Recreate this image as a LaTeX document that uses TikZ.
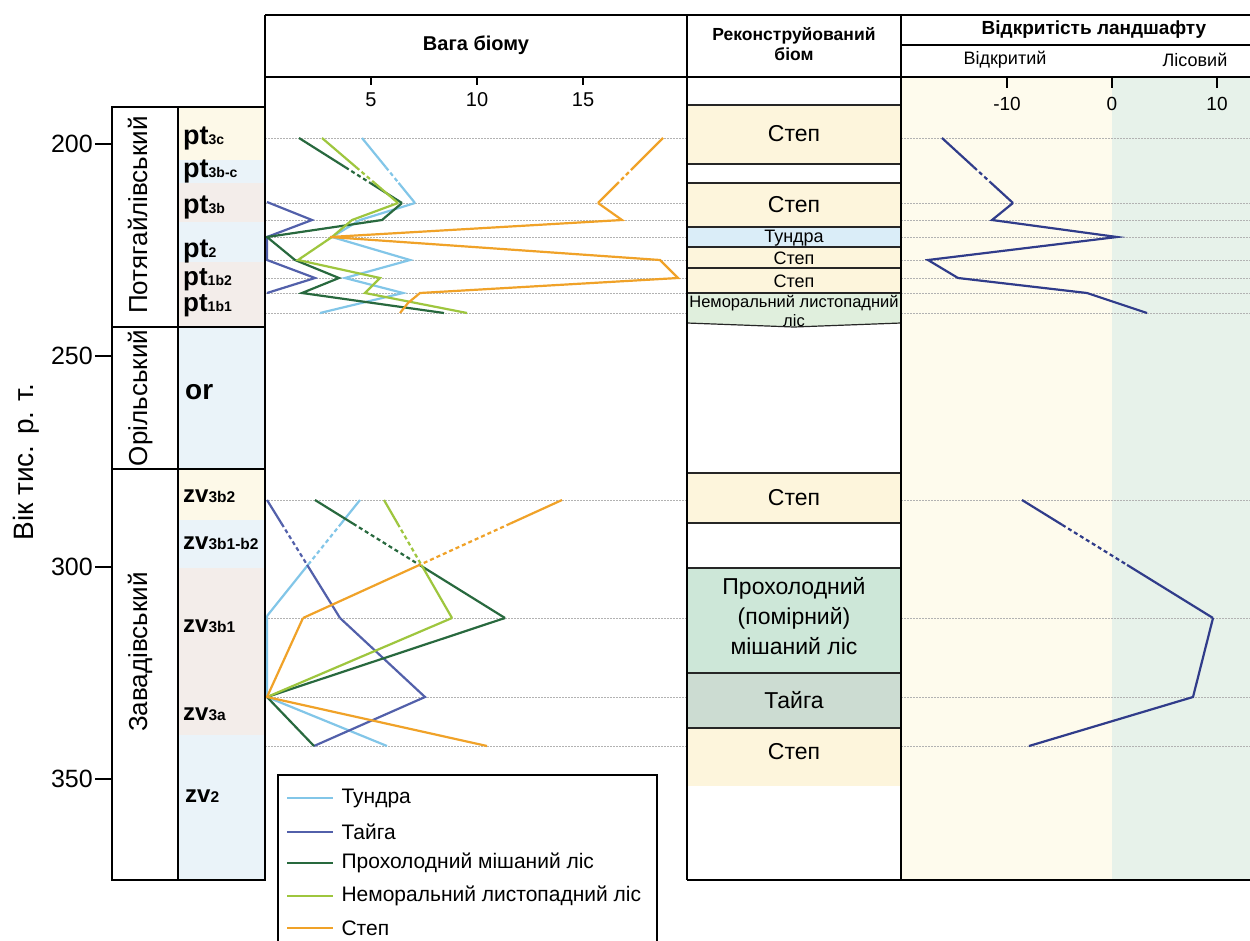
\documentclass[tikz,border=0pt]{standalone}
\usepackage{fontspec}
\setmainfont{Liberation Sans}
\usetikzlibrary{calc}

% series colours
\definecolor{cTund}{RGB}{130,198,232}
\definecolor{cTaig}{RGB}{82,96,170}
\definecolor{cMix}{RGB}{40,105,62}
\definecolor{cNem}{RGB}{158,198,62}
\definecolor{cStep}{RGB}{240,162,40}
\definecolor{cOpen}{RGB}{48,60,138}
% fills
\definecolor{fStep}{RGB}{253,245,220}
\definecolor{fTund}{RGB}{218,237,248}
\definecolor{fNem}{RGB}{224,239,221}
\definecolor{fMix}{RGB}{205,231,216}
\definecolor{fTaig}{RGB}{204,220,210}
\definecolor{subY}{RGB}{253,249,232}
\definecolor{subB}{RGB}{234,243,249}
\definecolor{subP}{RGB}{243,237,234}
\definecolor{openY}{RGB}{254,251,237}
\definecolor{openG}{RGB}{231,242,234}

\tikzset{
  frame/.style={draw=black,line width=1.6pt},
  sepline/.style={draw=black!85,line width=1.2pt},
  gridl/.style={draw=black!30,line width=0.7pt,dash pattern=on 1.5pt off 1.5pt},
  serie/.style={line width=2.2pt,line join=miter},
  tund/.style={serie,draw=cTund},
  taig/.style={serie,draw=cTaig},
  mixf/.style={serie,draw=cMix},
  nemf/.style={serie,draw=cNem},
  stepl/.style={serie,draw=cStep},
  openl/.style={serie,draw=cOpen},
  gapdash/.style={dash pattern=on 4pt off 3pt},
  hdr/.style={font=\fontsize{19}{22}\selectfont\bfseries,align=center},
  tick/.style={font=\fontsize{20}{22}\selectfont},
  big/.style={font=\fontsize{23}{27}\selectfont,align=center},
  small/.style={font=\fontsize{18}{20}\selectfont},
  stage/.style={font=\fontsize{26}{28}\selectfont,rotate=90,anchor=base},
  leg/.style={font=\fontsize{21}{24}\selectfont,anchor=west},
  subl/.style={anchor=base west,inner sep=0},
}

% segment whose middle part is dashed (interpolated interval)
\newcommand\gapseg[5]{%
  \draw[#1] (#2) -- ($(#2)!#4!(#3)$);
  \draw[#1,gapdash] ($(#2)!#4!(#3)$) -- ($(#2)!#5!(#3)$);
  \draw[#1] ($(#2)!#5!(#3)$) -- (#3);}

% substage label: main letters and smaller index
\newcommand\subst[4]{{\bfseries\fontsize{#3}{#3}\selectfont #1\fontsize{#4}{#4}\selectfont #2}}

\begin{document}
\begin{tikzpicture}[x=1pt,y=-1pt]
\useasboundingbox (0,0) rectangle (1250,940);
\fill[white] (0,0) rectangle (1250,940);

% ---------- backgrounds ----------
\fill[subY] (178,107) rectangle (265,160);
\fill[subB] (178,160) rectangle (265,183);
\fill[subP] (178,183) rectangle (265,222);
\fill[subB] (178,222) rectangle (265,262);
\fill[subP] (178,262) rectangle (265,327);
\fill[subB] (178,327) rectangle (265,469);
\fill[subY] (178,469) rectangle (265,520);
\fill[subB] (178,520) rectangle (265,568);
\fill[subP] (178,568) rectangle (265,735);
\fill[subB] (178,735) rectangle (265,880);

\fill[openY] (901,77) rectangle (1112,880);
\fill[openG] (1112,77) rectangle (1250,880);

% reconstructed biome bands
\fill[fStep] (687,105) rectangle (901,164);
\fill[fStep] (687,183) rectangle (901,227);
\fill[fTund] (687,227) rectangle (901,247);
\fill[fStep] (687,247) rectangle (901,293);
\fill[fNem] (687,293) -- (901,293) -- (901,323) -- (794,327) -- (687,323) -- cycle;
\fill[fStep] (687,473) rectangle (901,523);
\fill[fMix] (687,568) rectangle (901,673);
\fill[fTaig] (687,673) rectangle (901,728);
\fill[fStep] (687,728) rectangle (901,786);

% ---------- sample levels ----------
\foreach \yy in {138,203,220,237,260,278,293,313,500,618,697,746}{
  \draw[gridl] (265,\yy) -- (687,\yy);
  \draw[gridl] (901,\yy) -- (1250,\yy);
}

% ---------- biome weight series ----------
% tundra
\gapseg{tund}{362,138}{415,203}{0.45}{0.69}
\draw[tund] (415,203) -- (360,220) -- (332,237) -- (410,260) -- (345,278) -- (403,293) -- (320,313);
\gapseg{tund}{360,500}{267,616}{0.2}{0.55}
\draw[tund] (267,616) -- (267,697) -- (387,746);
% taiga
\draw[taig] (267,202) -- (312,220) -- (267,237) -- (267,260) -- (315,278) -- (267,293);
\gapseg{taig}{267,500}{340,618}{0.2}{0.55}
\draw[taig] (340,618) -- (425,697) -- (314,746);
% cool mixed forest
\gapseg{mixf}{299,138}{402,203}{0.45}{0.69}
\draw[mixf] (402,203) -- (382,220) -- (267,237) -- (295,260) -- (339,278) -- (302,293) -- (444,313);
\gapseg{mixf}{315,500}{505,618}{0.2}{0.55}
\draw[mixf] (505,618) -- (267,697) -- (314,746);
% nemoral deciduous forest
\gapseg{nemf}{322,138}{398,203}{0.45}{0.69}
\draw[nemf] (398,203) -- (352,220) -- (332,237) -- (298,260) -- (380,278) -- (365,293) -- (467,313);
\gapseg{nemf}{384,500}{452,618}{0.2}{0.55}
\draw[nemf] (452,618) -- (267,697);
% steppe
\gapseg{stepl}{663,138}{598,203}{0.45}{0.69}
\draw[stepl] (598,203) -- (622,220) -- (330,237) -- (660,260) -- (678,278) -- (420,293) -- (408,303) -- (400,313);
\gapseg{stepl}{562,500}{303,618}{0.2}{0.55}
\draw[stepl] (303,618) -- (267,697) -- (487,746);

% ---------- landscape openness ----------
\gapseg{openl}{942,138}{1013,203}{0.45}{0.68}
\draw[openl] (1013,203) -- (992,220) -- (1117,237) -- (928,260) -- (958,278) -- (1087,293) -- (1147,313);
\gapseg{openl}{1022,500}{1213,618}{0.21}{0.55}
\draw[openl] (1213,618) -- (1193,697) -- (1029,746);

% ---------- reconstructed biome boundaries ----------
\foreach \yy in {105,164,183,227,247,268,293,473,523,568,673,728}{
  \draw[sepline] (687,\yy) -- (901,\yy);
}
\draw[sepline] (687,323) -- (794,327) -- (901,323);

% ---------- frames ----------
\draw[frame] (265,15) -- (1250,15);
\draw[frame] (265,77) -- (1250,77);
\draw[frame] (901,45) -- (1250,45);
\draw[frame] (265,15) -- (265,880);
\draw[frame] (687,15) -- (687,880);
\draw[frame] (901,15) -- (901,880);
\draw[frame] (687,880) -- (1250,880);
\draw[frame] (112,107) rectangle (265,880);
\draw[frame] (178,107) -- (178,880);
\draw[frame] (112,327) -- (265,327);
\draw[frame] (112,469) -- (265,469);

% ---------- age axis ----------
\foreach \yy/\lab in {144/200,356/250,567/300,779/350}{
  \draw[line width=1.6pt] (95,\yy) -- (112,\yy);
  \node[font=\fontsize{25}{27}\selectfont,anchor=east,inner sep=1pt] (age\lab) at (94,\yy) {\lab};
}
\node[font=\fontsize{28}{30}\selectfont,rotate=90,anchor=base] (agetitle) at (33,462) {Вік тис. р. т.};

% ---------- stages ----------
\node[stage] (stP) at (147,215) {Потягайлівський};
\node[stage] (stO) at (147,398) {Орільський};
\node[stage] (stZ) at (147,652) {Завадівський};

% ---------- substages ----------
\node[subl] (s1) at (183,144) {\subst{pt}{3c}{27}{14}};
\node[subl] (s2) at (183,177) {\subst{pt}{3b-c}{27}{14}};
\node[subl] (s3) at (183,213) {\subst{pt}{3b}{27}{14}};
\node[subl] (s4) at (183,257) {\subst{pt}{2}{27}{14}};
\node[subl] (s5) at (183,285) {\subst{pt}{1b2}{26}{14}};
\node[subl] (s6) at (183,311) {\subst{pt}{1b1}{26}{14}};
\node[subl] (s7) at (185,399) {\subst{or}{}{28}{14}};
\node[subl] (s8) at (183,502) {\subst{zv}{3b2}{24}{15.5}};
\node[subl] (s9) at (183,549) {\subst{zv}{3b1-b2}{24}{15.5}};
\node[subl] (s10) at (183,632) {\subst{zv}{3b1}{24}{15.5}};
\node[subl] (s11) at (183,720) {\subst{zv}{3a}{24}{15.5}};
\node[subl] (s12) at (185,802) {\subst{zv}{2}{24}{15.5}};

% ---------- headers ----------
\node[hdr,font=\fontsize{20}{22}\selectfont\bfseries] (hW) at (476,45) {Вага біому};
\node[hdr,font=\fontsize{17.5}{20}\selectfont\bfseries] (hR) at (794,44) {Реконструйований\\біом};
\node[hdr] (hO) at (1094,30) {Відкритість ландшафту};
\node[font=\fontsize{18}{20}\selectfont] (hOa) at (1005,60) {Відкритий};
\node[font=\fontsize{18}{20}\selectfont] (hOb) at (1195,60) {Лісовий};

% weight axis
\foreach \xx/\lab in {371/5,477/10,583/15}{
  \draw[line width=1.3pt] (\xx,77) -- (\xx,85);
  \node[tick] (w\lab) at (\xx,100) {\lab};
}
% openness axis
\foreach \xx/\lab/\nm in {1007/-10/m,1112/0/z,1217/10/p}{
  \draw[line width=1.3pt] (\xx,77) -- (\xx,88);
  \node[tick,font=\fontsize{19}{21}\selectfont] (o\nm) at (\xx,104) {\lab};
}

% ---------- biome names ----------
\node[big] (b1) at (794,134) {Степ};
\node[big] (b2) at (794,205) {Степ};
\node[small] (b3) at (794,238) {Тундра};
\node[small] (b4) at (794,258) {Степ};
\node[small] (b5) at (794,281) {Степ};
\node[font=\fontsize{16.5}{18}\selectfont] (b6) at (794,303) {Неморальний листопадний};
\node[font=\fontsize{16.5}{18}\selectfont] (b6b) at (794,321) {ліс};
\node[big] (b7) at (794,498) {Степ};
\node[big,font=\fontsize{23}{30}\selectfont] (b8) at (794,616) {Прохолодний\\(помірний)\\мішаний ліс};
\node[big] (b9) at (794,700) {Тайга};
\node[big] (b10) at (794,752) {Степ};

% ---------- legend ----------
\fill[white] (278,775) rectangle (657,945);
\draw[line width=1.2pt] (278,945) -- (278,775) -- (657,775) -- (657,945);
\foreach \yy/\sty/\lab/\nm in {798/tund/Тундра/l1,832/taig/Тайга/l2,863/mixf/Прохолодний мішаний ліс/l3,896/nemf/Неморальний листопадний ліс/l4,928/stepl/Степ/l5}{
  \coordinate (\nm a) at (287,\yy);
  \coordinate (\nm b) at (333,\yy);
  \draw[\sty,line width=2pt] (\nm a) -- (\nm b);
  \node[leg] (\nm) at (338,\yy) {\lab};
}
\end{tikzpicture}
\end{document}
